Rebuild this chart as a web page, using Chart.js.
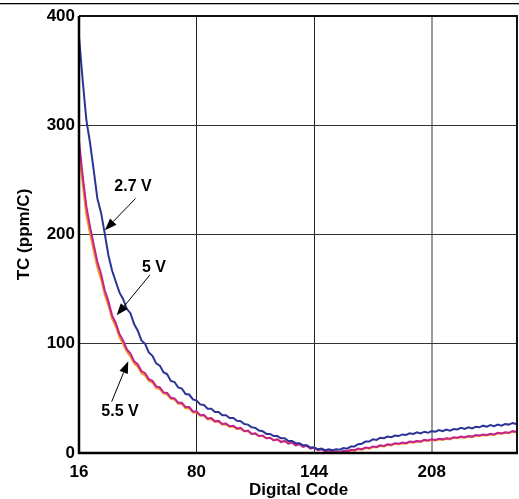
<!DOCTYPE html>
<html>
<head>
<meta charset="utf-8">
<script src="https://cdn.jsdelivr.net/npm/chart.js@4/dist/chart.umd.min.js"></script>
<style>
html,body{margin:0;padding:0;background:#fff;}
#wrap{width:519px;height:499px;position:relative;}
canvas{display:block;}
</style>
</head>
<body>
<div id="wrap"><canvas id="c" width="519" height="499"></canvas></div>
<script>
const codes = [16,18,20,22,24,26,28,30,32,34,36,38,40,42,44,46,48,50,52,54,56,58,60,62,64,66,68,70,72,74,76,78,80,82,84,86,88,90,92,94,96,98,100,102,104,106,108,110,112,114,116,118,120,122,124,126,128,130,132,134,136,138,140,142,144,146,148,150,152,154,156,158,160,162,164,166,168,170,172,174,176,178,180,182,184,186,188,190,192,194,196,198,200,202,204,206,208,210,212,214,216,218,220,222,224,226,228,230,232,234,236,238,240,242,244,246,248,250,252,254];

const tc27 = [381,341,305,284,259,233,220,201,181,167,157,147,141,132,128,118,112,103,100,92,89,82,80,74,72,66,65,60,59,54,53.5,49,48,44.5,44,40.5,40.5,37.5,37.5,34.5,34.5,32,32,29.5,29,26.5,26,23.5,23,20.5,20,17.5,17.5,15.5,15.5,13.5,13.5,11,11,9,9,7,7,5,5,3.5,4,2.5,3.5,2.5,3.5,3,4.5,4,6,6,8,8.5,10.5,10.5,12.5,12,14,13.5,15,14.5,16,15.5,17,16.5,18,17.5,19,18,19.5,18.5,20,19.5,21,20,21.5,20.5,22,21.5,23,22,23.5,22.5,24,23.5,25,24,25.5,24.5,26,25,26.5,26,27.5,26.5];

const tc50 = [286,254,226,207,191,175,164,149,139,126,119,109,103,95,91,84,81,75,73,67.5,66,61,60,55.5,55,50.5,50,46,46,42,42,38,38,34.5,35,31.5,32,29,29.5,26.5,27,24.5,25,22.5,23,20,20.5,17.5,18,15.5,16,13.5,14,11.5,12.5,10,11,8.5,9.5,7,8,5.5,6.5,4,5,2.5,3.5,1.5,2.5,0.5,1.5,0.5,2,1.5,3,2.5,4,3.5,5,4.5,6,5.5,7,6.5,8,7.5,9,8.5,9.5,9,10.5,10,11,10.5,12,11.5,12.5,12,13,12.5,13.5,13,14.5,14,15,14.5,15.5,15,16.5,16,17,16.5,17.5,17,18.5,18,19,18.5,20,19.5];

const tc55 = [277,246,218,201,185,170,159,145,135,123,116,106,100,93,88.5,82,79,73,71,66,64.5,59.5,58.5,54.5,53.5,49.5,49,45,45,41,41,37,37,34,34,31,31,28.5,28.5,26,26,24,24,22,22,20,20,17.5,17.5,15.5,15.5,13.5,14,12,12.5,10.5,11,9,10,7.5,8.5,6,7,4.5,5.5,3,3.5,1.5,2,0.5,1,0.3,1.5,1,2.5,2,3.5,3,4.5,4,5.5,5,6.5,6,7.5,7,8.5,8,9,8.5,10,9.5,10.5,10,11.5,11,12,11.5,12.5,12,13,12.5,14,13.5,14.5,14,15,14.5,16,15.5,16.5,16,17,16.5,18,17.5,18.5,18,19.5,19];

const xTicks = [16,80,144,208];
const yTicks = [0,100,200,300,400];

// annotation labels: [text, labelX, labelY, tailX, tailY, tipX, tipY] in data units
const notes = [
  ['2.7 V', 45.4, 244, 46.8, 233, 30.1, 204],
  ['5 V',   56.8, 170, 54.6, 163, 36.5, 126],
  ['5.5 V', 38.3, 38,  33.8, 47,  42.8, 84]
];

const FONT = 'Liberation Sans, Arial, Helvetica, sans-serif';

const pts = ys => codes.map((c,i)=>({x:c, y:ys[i]}));

const framePlugin = {
  id:'frame',
  beforeDraw(chart){
    const ctx = chart.ctx;
    ctx.save();
    ctx.fillStyle = '#000';
    ctx.fillRect(0, 3, 519, 1.3);
    ctx.restore();
  },
  afterDatasetsDraw(chart){
    const {ctx, chartArea:a, scales} = chart;
    ctx.save();
    ctx.strokeStyle = '#111';
    ctx.lineWidth = 2;
    ctx.beginPath();
    ctx.moveTo(a.left, a.top); ctx.lineTo(a.right-1, a.top); ctx.lineTo(a.right-1, a.bottom);
    ctx.stroke();
    ctx.strokeStyle = '#000';
    ctx.lineWidth = 2.5;
    ctx.beginPath();
    ctx.moveTo(a.left, a.top); ctx.lineTo(a.left, a.bottom); ctx.lineTo(a.right, a.bottom);
    ctx.stroke();
    // annotations
    const xs = scales.x, ys = scales.y;
    ctx.fillStyle = '#000';
    ctx.font = 'bold 16px ' + FONT;
    ctx.textAlign = 'center';
    ctx.textBaseline = 'middle';
    notes.forEach(n=>{
      const lx = xs.getPixelForValue(n[1]), ly = ys.getPixelForValue(n[2]);
      ctx.fillText(n[0], lx, ly);
      const x0 = xs.getPixelForValue(n[3]), y0 = ys.getPixelForValue(n[4]);
      const x1 = xs.getPixelForValue(n[5]), y1 = ys.getPixelForValue(n[6]);
      const ang = Math.atan2(y1-y0, x1-x0);
      const L = 12, W = 4.5;
      const bx = x1 - L*Math.cos(ang), by = y1 - L*Math.sin(ang);
      ctx.strokeStyle = '#000';
      ctx.lineWidth = 1;
      ctx.beginPath(); ctx.moveTo(x0,y0); ctx.lineTo(bx,by); ctx.stroke();
      ctx.beginPath();
      ctx.moveTo(x1,y1);
      ctx.lineTo(bx + W*Math.sin(ang), by - W*Math.cos(ang));
      ctx.lineTo(bx - W*Math.sin(ang), by + W*Math.cos(ang));
      ctx.closePath(); ctx.fill();
    });
    ctx.restore();
  }
};

new Chart(document.getElementById('c'), {
  type:'line',
  data:{
    datasets:[
      {label:'2.7 V', data:pts(tc27), borderColor:'#2B3494', borderWidth:2, order:0},
      {label:'5 V', data:pts(tc50), borderColor:'#C2238F', borderWidth:2, order:1},
      {label:'5.5 V', data:pts(tc55), borderColor:'#F7941D', borderWidth:2, order:2}
    ]
  },
  options:{
    responsive:false,
    animation:false,
    events:[],
    layout:{padding:{top:16,right:1,left:0,bottom:0}},
    elements:{point:{radius:0}, line:{tension:0}},
    plugins:{legend:{display:false}, tooltip:{enabled:false}},
    scales:{
      x:{
        type:'linear', min:16, max:255,
        afterFit(s){ s.height = 46; },
        afterBuildTicks(s){ s.ticks = xTicks.map(v=>({value:v})); },
        ticks:{font:{family:FONT, size:17, weight:'bold'}, color:'#000', padding:9, maxRotation:0, autoSkip:false},
        grid:{drawTicks:false,
          color:c=> (c.tick && c.tick.value===208) ? '#9a9a9a' : (c.tick && c.tick.value===16 ? 'rgba(0,0,0,0)' : '#222'),
          lineWidth:c=> (c.tick && c.tick.value===208) ? 2 : 1},
        border:{display:false},
        title:{display:true, text:'Digital Code', color:'#000', font:{family:FONT, size:17, weight:'bold'}, padding:{top:0,bottom:-2}}
      },
      y:{
        min:0, max:400,
        afterFit(s){ s.width = 79; },
        afterBuildTicks(s){ s.ticks = yTicks.map(v=>({value:v})); },
        ticks:{font:{family:FONT, size:17, weight:'bold'}, color:'#000', padding:4},
        grid:{drawTicks:false,
          color:c=> (c.tick && (c.tick.value===0 || c.tick.value===400)) ? 'rgba(0,0,0,0)' : '#333',
          lineWidth:1},
        border:{display:false},
        title:{display:true, text:'TC (ppm/C)', color:'#000', font:{family:FONT, size:17, weight:'bold'}, padding:{top:14,bottom:0}}
      }
    }
  },
  plugins:[framePlugin]
});
</script>
</body>
</html>
